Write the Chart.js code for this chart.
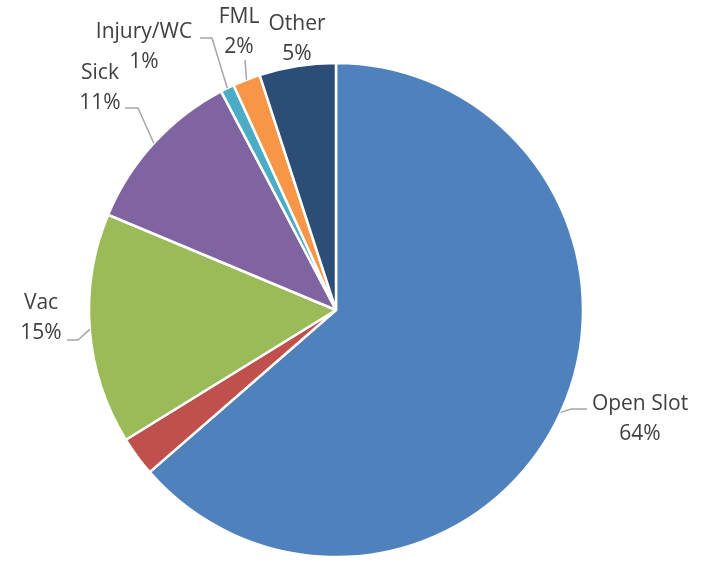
<!DOCTYPE html>
<html>
<head>
<meta charset="utf-8">
<script src="https://cdn.jsdelivr.net/npm/chart.js@4.4.1/dist/chart.umd.min.js"></script>
<style>
    html, body { margin: 0; padding: 0; background: #fff; }
    #wrap { width: 704px; height: 563px; }
</style>
</head>
<body>
<div id="wrap"><canvas id="pieChart"></canvas></div>
<script>
// data
const categories = ["Open Slot", "", "Vac", "Sick", "Injury/WC", "FML", "Other"];
const shares = [63.6, 2.6, 15.1, 11.0, 0.9, 1.8, 5.0];
const shownPercents = ["64%", "", "15%", "11%", "1%", "2%", "5%"];
const sliceColors = ["#4F81BD", "#C0504D", "#9BBB59", "#8064A2", "#4BACC6", "#F79646", "#2C4D75"];

// where each label sits (canvas px) and the bend points of its leader line
const labelLayout = [
    {x: 640, y: 404, leader: [[571, 409], [587, 409]]},
    null,
    {x: 41, y: 303, leader: [[78, 340], [67, 340]]},
    {x: 100, y: 73, leader: [[138, 108], [125, 108]]},
    {x: 144, y: 32, leader: [[212, 38], [200, 38]]},
    {x: 239, y: 17, leader: [[245, 60]]},
    {x: 297, y: 24, leader: null},
];

const pieLabels = {
    id: "pieLabels",
    afterDraw: (chart) => {
        const {ctx} = chart;
        const arcs = chart.getDatasetMeta(0).data;
        ctx.save();
        ctx.font = "21px 'Open Sans'";
        ctx.textAlign = "center";
        ctx.textBaseline = "middle";
        arcs.forEach((arc, i) => {
            const lay = labelLayout[i];
            if (!lay) return;
            if (lay.leader) {
                const mid = (arc.startAngle + arc.endAngle) / 2;
                ctx.beginPath();
                ctx.strokeStyle = "#A6A6A6";
                ctx.lineWidth = 1.5;
                ctx.moveTo(arc.x + Math.cos(mid) * arc.outerRadius, arc.y + Math.sin(mid) * arc.outerRadius);
                lay.leader.forEach(p => ctx.lineTo(p[0], p[1]));
                ctx.stroke();
            }
            ctx.fillStyle = "#404040";
            ctx.fillText(categories[i], lay.x, lay.y);
            ctx.fillText(shownPercents[i], lay.x, lay.y + 30);
        });
        ctx.restore();
    }
};

new Chart(document.getElementById("pieChart"), {
    type: "pie",
    data: {
        labels: categories,
        datasets: [{
            data: shares,
            backgroundColor: sliceColors,
            borderColor: "#ffffff",
            borderWidth: 2.5,
            radius: 247,
        }]
    },
    plugins: [pieLabels],
    options: {
        responsive: true,
        maintainAspectRatio: false,
        animation: false,
        layout: {
            padding: {left: 0, right: 32, top: 57, bottom: 0}
        },
        plugins: {
            legend: {display: false},
            tooltip: {enabled: false},
        },
    },
});
</script>
</body>
</html>
